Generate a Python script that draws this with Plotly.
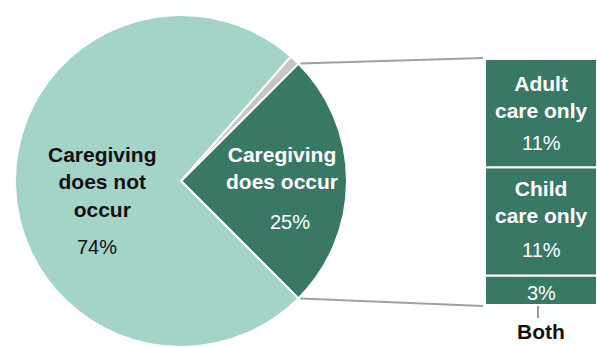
import math
import plotly.graph_objects as go

W, H = 597, 347

# Share of respondents by caregiving status
pie_labels = ["Caregiving does occur", "No answer", "Caregiving does not occur"]
pie_values = [25, 1, 74]
pie_colors = ["#3a7866", "#c6c6c6", "#a4d3c8"]

# Breakdown of "caregiving does occur" (stacked bottom to top)
bar_labels = ["Both", "Child<br>care only", "Adult<br>care only"]
bar_values = [3, 11, 11]

DARK = "#3a7866"
FONT = "Liberation Sans, Arial, sans-serif"

# pie geometry in pixels (origin top-left)
CX, CY, R = 181, 181, 166
# bar block geometry in pixels
BX0, BY_TOP, BY_BOT = 485, 59, 305


def px(x):
    return x / W


def py(y):
    return 1 - y / H


fig = go.Figure()

# first slice is centred on 3 o'clock
half_deg = pie_values[0] / sum(pie_values) * 180
fig.add_trace(go.Pie(
    labels=pie_labels,
    values=pie_values,
    sort=False,
    direction="counterclockwise",
    rotation=90 - half_deg,
    marker=dict(colors=pie_colors, line=dict(color="white", width=2)),
    textinfo="none",
    hoverinfo="skip",
    domain=dict(x=[px(CX - R), px(CX + R)], y=[0, 2 * R / H]),
))

total = sum(bar_values)
base = 0
for lab, val in zip(bar_labels, bar_values):
    fig.add_trace(go.Bar(
        x=[0], y=[val], base=[base], width=1,
        marker=dict(color=DARK, line=dict(color="white", width=2)),
        xaxis="x2", yaxis="y2", hoverinfo="skip", showlegend=False,
    ))
    base += val

fig.update_layout(
    width=W, height=H,
    margin=dict(l=0, r=0, t=0, b=0),
    paper_bgcolor="white", plot_bgcolor="white",
    showlegend=False,
    barmode="overlay",
    xaxis2=dict(domain=[px(BX0), 1], range=[-0.5, 0.5], visible=False, fixedrange=True),
    yaxis2=dict(domain=[py(BY_BOT), py(BY_TOP)], range=[0, total], visible=False,
                fixedrange=True, anchor="x2"),
    font=dict(family=FONT),
)

# connector lines from the slice edges to the bar corners
half = math.radians(half_deg)
top_pt = (CX + R * math.cos(half), CY - R * math.sin(half))
bot_pt = (CX + R * math.cos(half), CY + R * math.sin(half))
for (sx, sy), ey in ((top_pt, BY_TOP - 1), (bot_pt, BY_BOT + 1)):
    fig.add_shape(type="line", xref="paper", yref="paper",
                  x0=px(sx + 2), y0=py(sy), x1=px(BX0 - 2), y1=py(ey),
                  line=dict(color="#a0a0a0", width=2))

bold = dict(family=FONT, size=21, color="white")
light = dict(family=FONT, size=20, color="white")


def label(x, y, text, font):
    fig.add_annotation(x=px(x), y=py(y), xref="paper", yref="paper",
                       xanchor="center", yanchor="middle", align="center",
                       text=text, showarrow=False, font=font)


# slice labels
label(282, 168, "<b>Caregiving<br>does occur</b>", bold)
label(290, 222, f"{pie_values[0]}%", light)
label(102, 182, "<b>Caregiving<br>does not<br>occur</b>", dict(bold, color="#111111"))
label(97, 247, f"{pie_values[2]}%", dict(light, color="#111111"))

# bar segment labels
bx_c = (BX0 + W) / 2
unit = (BY_BOT - BY_TOP) / total
label_pos = {  # (name center y, pct center y) in pixels
    "Adult<br>care only": (97, 143),
    "Child<br>care only": (202, 250),
}
for lab, val in zip(bar_labels, bar_values):
    if lab in label_pos:
        ny, vy = label_pos[lab]
        label(bx_c, ny, f"<b>{lab}</b>", bold)
        label(bx_c, vy, f"{val}%", light)
    else:
        label(bx_c, BY_BOT - val * unit / 2 + 3, f"{val}%", light)
        fig.add_shape(type="line", xref="paper", yref="paper",
                      x0=px(538), x1=px(538), y0=py(BY_BOT + 1), y1=py(318),
                      line=dict(color="#999999", width=2))
        label(bx_c, 331, f"<b>{lab}</b>", dict(bold, color="#111111"))

fig.write_html("out.html", config={"displayModeBar": False})
